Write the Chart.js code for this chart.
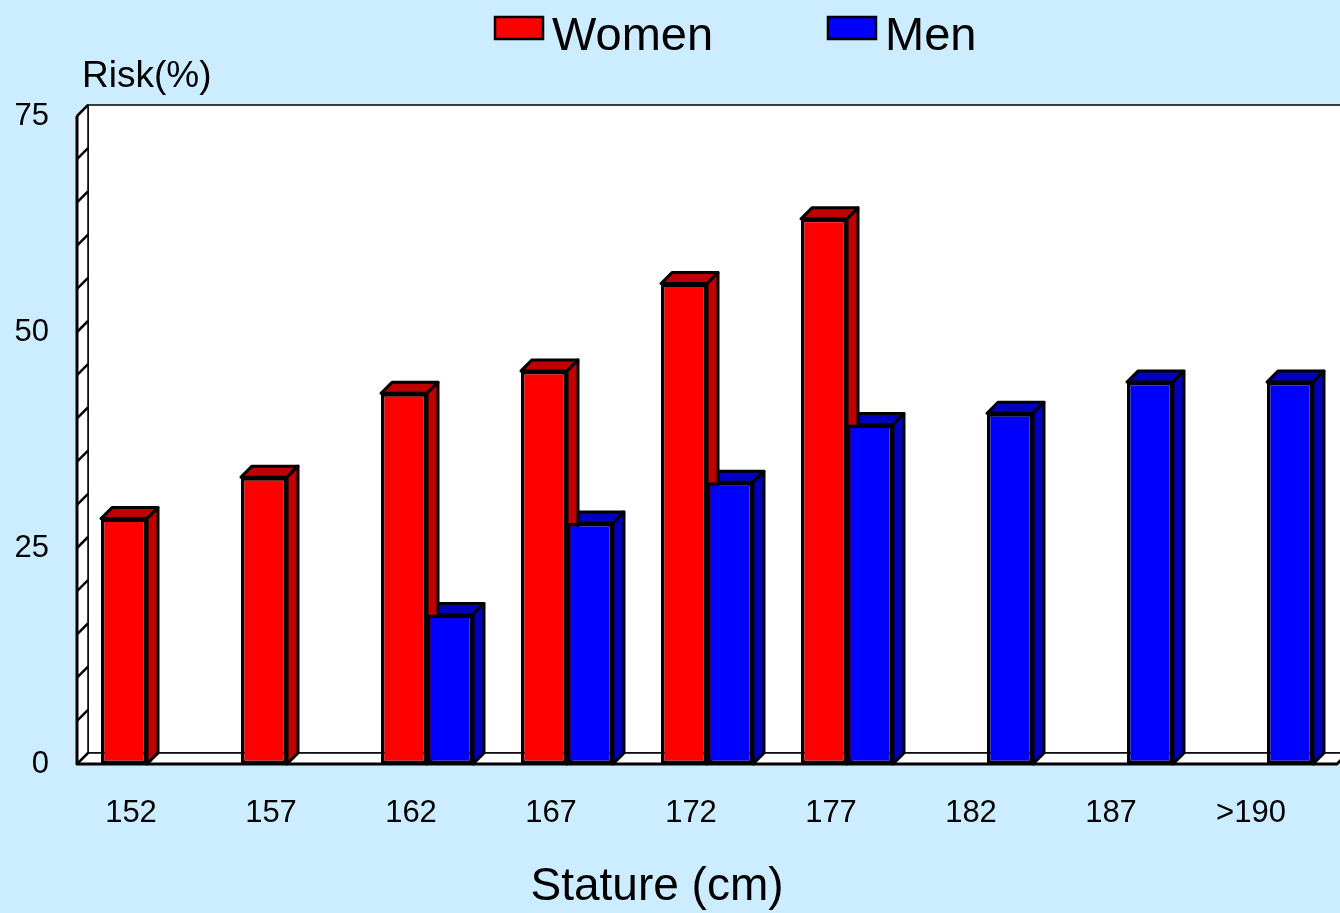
<!DOCTYPE html>
<html lang="en">
<head>
<meta charset="UTF-8">
<title>Risk by Stature</title>
<script src="https://cdn.jsdelivr.net/npm/chart.js"></script>
<style>
  body { margin: 0; background: #CCECFF; }
  #wrap { width: 1340px; height: 913px; }
</style>
</head>
<body>
<div id="wrap"><canvas id="chart" width="1340" height="913"></canvas></div>
<script>
// data
const categories = ['152', '157', '162', '167', '172', '177', '182', '187', '>190'];
const women = [28.4, 33.2, 42.9, 45.5, 55.6, 63.1, null, null, null];
const men = [null, null, 17.3, 27.9, 32.6, 39.3, 40.6, 44.2, 44.2];
const yMax = 75;
const yLabelStep = 25;
const yTickStep = 5;

const FONT = '"Liberation Sans", Arial, Helvetica, sans-serif';
const BG = '#CCECFF';
const DX = 11, DY = 11;   // 3d depth offset

function poly(ctx, pts, fill) {
    ctx.beginPath();
    ctx.moveTo(pts[0][0], pts[0][1]);
    for (let i = 1; i < pts.length; i++) ctx.lineTo(pts[i][0], pts[i][1]);
    ctx.closePath();
    if (fill) { ctx.fillStyle = fill; ctx.fill(); }
    ctx.stroke();
}

const background = {
    id: 'background',
    beforeDraw(chart) {
        const ctx = chart.ctx;
        ctx.save();
        ctx.fillStyle = BG;
        ctx.fillRect(0, 0, chart.width, chart.height);
        ctx.restore();
    }
};

// walls, floor and the depth faces of the bars
const box3d = {
    id: 'box3d',
    beforeDatasetsDraw(chart) {
        const { ctx, chartArea: a } = chart;
        const ys = chart.scales.y;
        ctx.save();
        ctx.lineJoin = 'round';
        ctx.strokeStyle = '#000';

        ctx.lineWidth = 1.5;
        poly(ctx, [[a.left + DX, a.top - DY], [a.right + DX + 20, a.top - DY], [a.right + DX + 20, a.bottom - DY], [a.left + DX, a.bottom - DY]], '#fff');
        poly(ctx, [[a.left, a.top], [a.left + DX, a.top - DY], [a.left + DX, a.bottom - DY], [a.left, a.bottom]], '#fff');
        poly(ctx, [[a.left, a.bottom], [a.left + DX, a.bottom - DY], [a.right + DX, a.bottom - DY], [a.right, a.bottom]], '#fff');

        ctx.lineWidth = 2.5;
        ys.ticks.forEach(t => {
            const py = ys.getPixelForValue(t.value);
            ctx.beginPath();
            ctx.moveTo(a.left, py);
            ctx.lineTo(a.left + DX, py - DY);
            ctx.stroke();
        });

        ctx.lineWidth = 3;
        ctx.beginPath();
        ctx.moveTo(a.left, a.top);
        ctx.lineTo(a.left, a.bottom);
        ctx.lineTo(a.right, a.bottom);
        ctx.lineTo(a.right + DX, a.bottom - DY);
        ctx.stroke();

        // right series first so the left bar's side face covers its top
        ctx.lineWidth = 3;
        for (const di of [1, 0]) {
            const ds = chart.data.datasets[di];
            chart.getDatasetMeta(di).data.forEach((bar, i) => {
                if (ds.data[i] == null) return;
                const { x, y, base, width } = bar.getProps(['x', 'y', 'base', 'width'], true);
                const L = x - width / 2, R = x + width / 2;
                poly(ctx, [[L, y], [L + DX, y - DY], [R + DX, y - DY], [R, y]], ds.depthColor);
                poly(ctx, [[R, y], [R + DX, y - DY], [R + DX, base - DY], [R, base]], ds.depthColor);
            });
        }
        ctx.restore();
    }
};

// legend and axis titles
const legendX = [495, 828];
const texts = {
    id: 'texts',
    afterDraw(chart) {
        const ctx = chart.ctx;
        ctx.save();
        ctx.fillStyle = '#000';
        ctx.textBaseline = 'alphabetic';

        chart.data.datasets.forEach((ds, i) => {
            const x = legendX[i];
            ctx.lineWidth = 2.5;
            ctx.strokeStyle = '#000';
            ctx.fillStyle = ds.backgroundColor;
            ctx.fillRect(x, 17, 48, 22);
            ctx.strokeRect(x, 17, 48, 22);
            ctx.fillStyle = '#000';
            ctx.font = '47px ' + FONT;
            ctx.textAlign = 'left';
            ctx.fillText(ds.label, x + 57, 50);
        });

        ctx.font = '37px ' + FONT;
        ctx.textAlign = 'left';
        ctx.fillText('Risk(%)', 82, 87);

        ctx.font = '46px ' + FONT;
        ctx.textAlign = 'center';
        ctx.fillText('Stature (cm)', 657, 900);
        ctx.restore();
    }
};

new Chart(document.getElementById('chart'), {
    type: 'bar',
    data: {
        labels: categories,
        datasets: [
            {
                label: 'Women',
                data: women,
                backgroundColor: '#FF0000',
                depthColor: '#C00000',
                borderColor: '#000',
                borderWidth: 3.5,
                borderSkipped: false
            },
            {
                label: 'Men',
                data: men,
                backgroundColor: '#0000FF',
                depthColor: '#0000C0',
                borderColor: '#000',
                borderWidth: 3.5,
                borderSkipped: false
            }
        ]
    },
    options: {
        responsive: false,
        animation: false,
        devicePixelRatio: 1,
        categoryPercentage: 0.657,
        barPercentage: 1,
        layout: { padding: { top: 116, right: 3, left: 0, bottom: 0 } },
        plugins: {
            legend: { display: false },
            tooltip: { enabled: false }
        },
        scales: {
            x: {
                grid: { display: false },
                border: { display: false },
                ticks: {
                    color: '#000',
                    font: { family: FONT, size: 31 },
                    padding: 23,
                    labelOffset: -16,
                    maxRotation: 0
                },
                afterFit: s => { s.height = 149; }
            },
            y: {
                min: 0,
                max: yMax,
                grid: { display: false, drawTicks: false },
                border: { display: false },
                ticks: {
                    stepSize: yTickStep,
                    autoSkip: false,
                    color: '#000',
                    font: { family: FONT, size: 31 },
                    padding: 28,
                    callback: v => (v % yLabelStep === 0 ? v : '')
                },
                afterFit: s => { s.width = 77; }
            }
        }
    },
    plugins: [background, box3d, texts]
});
</script>
</body>
</html>
